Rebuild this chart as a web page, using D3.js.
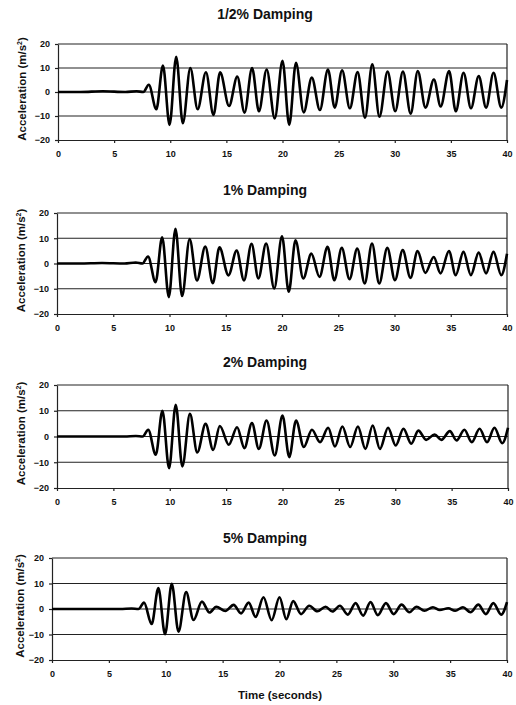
<!DOCTYPE html>
<html>
<head>
<meta charset="utf-8">
<script src="https://cdn.jsdelivr.net/npm/d3@7"></script>
<style>
  body { margin: 0; background: #fff; }
</style>
</head>
<body>
<script>
// time of each extremum (seconds), shared by the four records
const times = [0, 2, 4, 6, 7, 7.6,
    8.09, 8.76, 9.35, 9.94, 10.53, 11.12, 11.79, 12.44, 13.18, 13.85,
    14.44, 15.24, 15.97, 16.62, 17.29, 17.9, 18.59, 19.31, 20.0, 20.6,
    21.2, 21.89, 22.61, 23.33, 24.05, 24.65, 25.31, 26.0, 26.69, 27.35,
    28.0, 28.64, 29.36, 30.04, 30.73, 31.42, 32.05, 32.74, 33.49, 34.09,
    34.84, 35.44, 36.13, 36.79, 37.48, 38.14, 38.80, 39.49, 40];

// acceleration (m/s2)
const accHalf = [0, 0, 0.3, 0, 0.3, 0,
    3, -7.2, 11, -13.7, 14.7, -13, 10, -7.2, 8.2, -9.6,
    8.2, -5.8, 6.4, -8.6, 10, -8, 9.4, -11, 13, -13.7,
    12.2, -8.5, 6, -7.5, 9.4, -6.5, 9, -6.8, 8.3, -10.7,
    11.5, -10.3, 8.5, -8, 8.5, -9, 8.7, -6.5, 5.2, -6,
    8.7, -8, 8, -6.8, 6.6, -6.5, 8, -6.5, 5];
const acc1 = [0, 0, 0.2, 0, 0.4, 0,
    2.8, -7.4, 10.4, -13.3, 13.7, -12.9, 9.7, -6.7, 6.7, -7.8,
    6.4, -4.7, 5.1, -6.7, 7.8, -5.9, 7.9, -9.9, 10.8, -11.2,
    9.2, -5.9, 3.9, -5.3, 6.6, -6.6, 6.2, -6.2, 5.9, -7.9,
    7.9, -7.9, 6.2, -6.6, 5.3, -5.7, 4.9, -3.7, 2.6, -3.9,
    4.9, -4.6, 4.6, -4.6, 4.3, -3.9, 4.6, -4.6, 3.9];
const acc2 = [0, 0, 0, 0, 0.2, 0,
    2.6, -7.1, 10, -12.3, 12.3, -11.6, 8.8, -6.2, 4.9, -5.2,
    4.1, -3.2, 3.6, -4.5, 5.2, -4.8, 6.2, -7.4, 8.1, -8,
    6.2, -4.1, 2.6, -2.2, 3.4, -3.9, 3.9, -4.1, 3.9, -4.8,
    4.3, -4.8, 3.4, -3.5, 3, -2.8, 2.3, -1.3, 0.8, -1.3,
    2.1, -1.5, 2.6, -2.2, 3, -2.2, 3.4, -2.6, 3.4];
const acc5 = [0, 0, 0, 0, 0.2, 0,
    2.5, -5.9, 8.2, -9.9, 9.9, -8.9, 6.6, -4.3, 2.9, -1.4,
    0.9, -0.8, 1.6, -1.7, 2.5, -3.1, 4.6, -4.4, 4.6, -4,
    3.1, -2, 1.3, -0.9, 0.9, -1, 1.3, -2.2, 2.3, -2.6,
    2.7, -2.4, 2.3, -2, 1.7, -1.3, 0.9, -0.7, 0.7, -0.4,
    0.3, -0.7, 0.7, -1.3, 1.7, -2, 2.3, -2.2, 2.7];

const titles = ["1/2% Damping", "1% Damping", "2% Damping", "5% Damping"];
const series = [accHalf, acc1, acc2, acc5];
const xTicks = [0, 5, 10, 15, 20, 25, 30, 35, 40];
const yTicks = [-20, -10, 0, 10, 20];
const gridValues = [-10, 0, 10, 20];

// panel boxes in page pixels
const boxes = [
    {left: 58, right: 507, top: 44, bottom: 140, titleY: 19, labelX: 26},
    {left: 57, right: 507, top: 213, bottom: 314, titleY: 195, labelX: 25},
    {left: 57, right: 508, top: 385, bottom: 488, titleY: 367, labelX: 25},
    {left: 52, right: 507, top: 558, bottom: 660, titleY: 543, labelX: 24}
];

const canvWidth = 516, canvHeight = 705;
const svg = d3.select("body").append("svg")
    .attr("width", canvWidth)
    .attr("height", canvHeight)
    .attr("font-family", "'Liberation Sans', Arial, sans-serif");

function drawPanel(i) {
    const b = boxes[i];
    const values = series[i];

    const xScale = d3.scaleLinear().domain([0, 40]).range([b.left, b.right]);
    const yScale = d3.scaleLinear().domain([-20, 20]).range([b.bottom, b.top]);

    const g = svg.append("g").attr("class", "panel");

    // title
    g.append("text")
        .attr("x", 265)
        .attr("y", b.titleY)
        .attr("font-size", "14px")
        .attr("font-weight", "bold")
        .attr("fill", "#111")
        .style("text-anchor", "middle")
        .text(titles[i]);

    // horizontal grid lines (the one at 20 is the frame top)
    g.selectAll("line.grid")
        .data(gridValues)
        .join("line")
        .attr("class", "grid")
        .attr("x1", b.left)
        .attr("x2", b.right)
        .attr("y1", d => yScale(d))
        .attr("y2", d => yScale(d))
        .attr("stroke", "#222")
        .attr("stroke-width", 1.2);

    // right frame
    g.append("line")
        .attr("x1", b.right).attr("x2", b.right)
        .attr("y1", b.top).attr("y2", b.bottom)
        .attr("stroke", "#222")
        .attr("stroke-width", 1.2);

    const xAxis = d3.axisBottom(xScale)
        .tickValues(xTicks)
        .tickSize(3)
        .tickPadding(8)
        .tickSizeOuter(0);
    const gx = g.append("g")
        .attr("transform", "translate(0," + b.bottom + ")")
        .call(xAxis);

    const yAxis = d3.axisLeft(yScale)
        .tickValues(yTicks)
        .tickSize(3)
        .tickPadding(5)
        .tickSizeOuter(0);
    const gy = g.append("g")
        .attr("transform", "translate(" + b.left + ",0)")
        .call(yAxis);

    [gx, gy].forEach(a => {
        a.select(".domain").attr("stroke", "#222").attr("stroke-width", 1.2);
        a.selectAll(".tick line").attr("stroke", "#222").attr("stroke-width", 1.2);
        a.selectAll(".tick text")
            .attr("font-size", "9px")
            .attr("font-weight", "bold")
            .attr("fill", "#111")
            .attr("font-family", "'Liberation Sans', Arial, sans-serif");
    });

    // y axis title
    const yl = g.append("text")
        .attr("transform", "translate(" + b.labelX + "," + ((b.top + b.bottom) / 2 - 3) + ") rotate(-90)")
        .attr("font-size", "11.5px")
        .attr("font-weight", "bold")
        .attr("fill", "#111")
        .style("text-anchor", "middle");
    yl.append("tspan").text("Acceleration (m/s");
    yl.append("tspan").attr("font-size", "7px").attr("dy", "-4").text("2");
    yl.append("tspan").attr("dy", "4").text(")");

    // response trace
    const line = d3.line()
        .x((d, j) => xScale(times[j]))
        .y(d => yScale(d))
        .curve(d3.curveMonotoneX);

    g.append("path")
        .datum(values)
        .attr("d", line)
        .attr("fill", "none")
        .attr("stroke", "#000")
        .attr("stroke-width", 2.6)
        .attr("stroke-linejoin", "round");
}

for (let i = 0; i < 4; i++) drawPanel(i);

svg.append("text")
    .attr("x", 280)
    .attr("y", 699)
    .attr("font-size", "11.5px")
    .attr("font-weight", "bold")
    .attr("fill", "#111")
    .style("text-anchor", "middle")
    .text("Time (seconds)");
</script>
</body>
</html>
